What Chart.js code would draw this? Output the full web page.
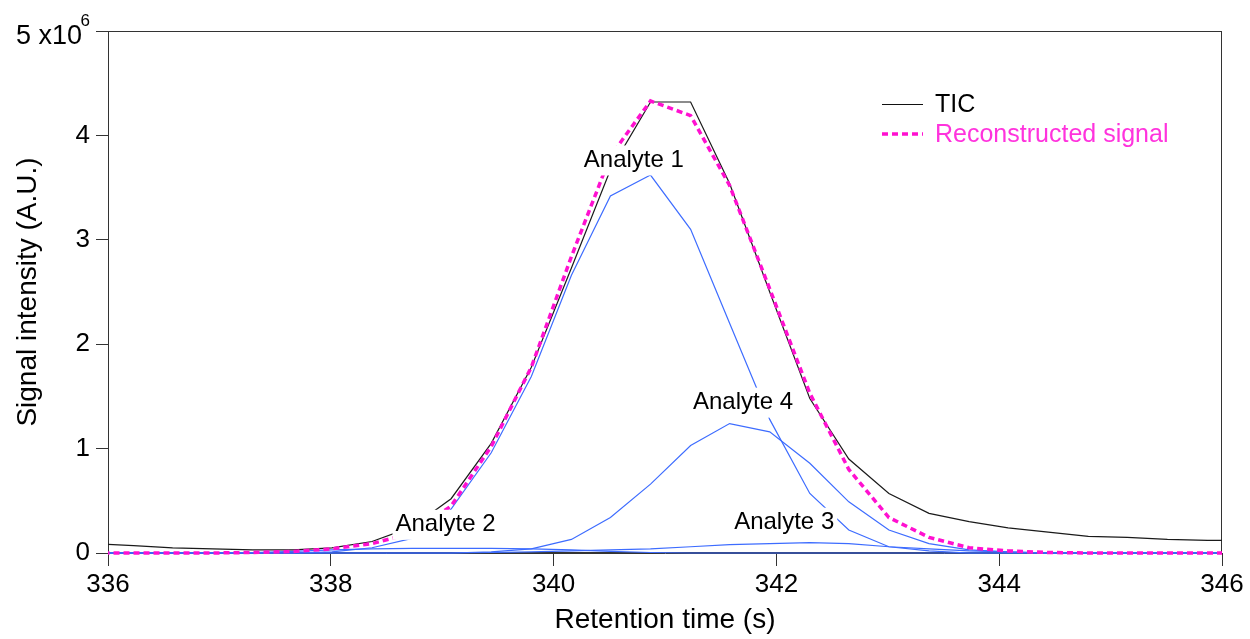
<!DOCTYPE html>
<html>
<head>
<meta charset="utf-8">
<script src="https://cdn.jsdelivr.net/npm/chart.js@4.4.1/dist/chart.umd.min.js"></script>
<style>
  html, body { margin: 0; padding: 0; background: #fff; }
</style>
</head>
<body>
<canvas id="chart" width="1250" height="639"></canvas>
<script>
// retention time (s)
const times = [335.87, 336.23, 336.58, 336.94, 337.30, 337.66, 338.01, 338.37, 338.73, 339.08,
  339.44, 339.80, 340.16, 340.51, 340.87, 341.23, 341.58, 341.94, 342.30, 342.65,
  343.01, 343.37, 343.73, 344.08, 344.44, 344.80, 345.15, 345.51, 345.87, 346.23];

// signal intensity, x10^6 A.U.
const ticSignal = [0.09, 0.07, 0.05, 0.04, 0.03, 0.03, 0.05, 0.11, 0.25, 0.52,
  1.05, 1.78, 2.73, 3.67, 4.32, 4.32, 3.54, 2.50, 1.48, 0.90,
  0.57, 0.38, 0.30, 0.24, 0.20, 0.16, 0.15, 0.13, 0.12, 0.12];
const reconstructed = [0, 0, 0, 0, 0.005, 0.015, 0.04, 0.09, 0.19, 0.45,
  1.02, 1.78, 2.84, 3.80, 4.33, 4.19, 3.52, 2.53, 1.53, 0.80,
  0.34, 0.15, 0.05, 0.02, 0.005, 0, 0, 0, 0, 0];
const analyte1 = [0, 0, 0, 0, 0, 0, 0.01, 0.05, 0.14, 0.42,
  0.96, 1.69, 2.66, 3.42, 3.62, 3.10, 2.20, 1.28, 0.57, 0.22,
  0.06, 0.02, 0, 0, 0, 0, 0, 0, 0, 0];
const analyte2 = [0, 0, 0, 0, 0.005, 0.015, 0.03, 0.04, 0.045, 0.045,
  0.045, 0.04, 0.03, 0.015, 0.005, 0, 0, 0, 0, 0,
  0, 0, 0, 0, 0, 0, 0, 0, 0, 0];
const analyte3 = [0, 0, 0, 0, 0, 0, 0, 0, 0, 0,
  0.005, 0.01, 0.02, 0.03, 0.04, 0.06, 0.08, 0.09, 0.10, 0.09,
  0.06, 0.04, 0.02, 0.01, 0, 0, 0, 0, 0, 0];
const analyte4 = [0, 0, 0, 0, 0, 0, 0, 0, 0, 0,
  0.01, 0.04, 0.13, 0.34, 0.66, 1.03, 1.24, 1.16, 0.86, 0.49,
  0.22, 0.09, 0.03, 0.01, 0, 0, 0, 0, 0, 0];

const yTicks = [0, 1, 2, 3, 4, 5];
const xTicks = [336, 338, 340, 342, 344, 346];

// peak labels (placed in data coordinates)
const labelText = ["Analyte 1", "Analyte 2", "Analyte 3", "Analyte 4"];
const labelX = [340.72, 339.03, 342.07, 341.70];
const labelY = [3.76, 0.27, 0.29, 1.44];

const legendText = ["TIC", "Reconstructed signal"];

const FONT = "Arial, 'Liberation Sans', sans-serif";
const axisColor = "#333333";
const blue = "#3d6cff";
const magenta = "#ff10d0";
const lineClip = { left: 0, right: 0, top: 4, bottom: 4 };

function toPoints(ys) {
  return times.map((t, i) => ({ x: t, y: ys[i] }));
}

const overlay = {
  id: "overlay",
  beforeDatasetsDraw(chart) {
    const ctx = chart.ctx;
    const area = chart.chartArea;
    ctx.save();
    ctx.strokeStyle = axisColor;
    ctx.lineWidth = 1;
    ctx.strokeRect(area.left + 0.5, area.top + 0.5, area.right - area.left - 1, area.bottom - area.top - 1);
    ctx.restore();
  },
  afterDatasetsDraw(chart) {
    const ctx = chart.ctx;
    const area = chart.chartArea;
    const xs = chart.scales.x;
    const ys = chart.scales.y;
    ctx.save();

    // peak labels with white boxes
    ctx.font = "24px " + FONT;
    ctx.textAlign = "center";
    ctx.textBaseline = "middle";
    labelText.forEach((txt, i) => {
      const px = xs.getPixelForValue(labelX[i]);
      const py = ys.getPixelForValue(labelY[i]);
      const w = ctx.measureText(txt).width;
      ctx.fillStyle = "#ffffff";
      ctx.fillRect(px - w / 2 - 3, py - 15, w + 6, 30);
      ctx.fillStyle = "#000000";
      ctx.fillText(txt, px, py);
    });

    // legend
    const lx = area.right - 340;
    ctx.lineWidth = 1.2;
    ctx.strokeStyle = "#111";
    ctx.beginPath();
    ctx.moveTo(lx, 104.5);
    ctx.lineTo(lx + 41, 104.5);
    ctx.stroke();
    ctx.lineWidth = 3.5;
    ctx.strokeStyle = magenta;
    ctx.setLineDash([6, 4]);
    ctx.beginPath();
    ctx.moveTo(lx, 134);
    ctx.lineTo(lx + 41, 134);
    ctx.stroke();
    ctx.setLineDash([]);
    ctx.textAlign = "left";
    ctx.font = "25px " + FONT;
    ctx.fillStyle = "#000";
    ctx.fillText(legendText[0], lx + 53, 105);
    ctx.fillStyle = "#ff33dd";
    ctx.fillText(legendText[1], lx + 53, 135);

    // top tick label with exponent
    const y5 = ys.getPixelForValue(5);
    ctx.fillStyle = "#000";
    ctx.textAlign = "right";
    ctx.font = "17px " + FONT;
    ctx.fillText("6", area.left - 18, y5 - 10);
    ctx.font = "27px " + FONT;
    ctx.fillText("5 x10", area.left - 26, y5 + 6);
    ctx.restore();
  }
};

const dataOpts = { borderWidth: 1.2, clip: lineClip };

new Chart(document.getElementById("chart"), {
  type: "line",
  data: {
    datasets: [
      { label: "Reconstructed signal", data: toPoints(reconstructed), borderColor: magenta, borderWidth: 3.5, borderDash: [6, 4], clip: lineClip, order: 0 },
      { label: "TIC", data: toPoints(ticSignal), borderColor: "#1a1a1a", ...dataOpts, order: 1 },
      { label: "Analyte 1", data: toPoints(analyte1), borderColor: blue, ...dataOpts, order: 2 },
      { label: "Analyte 2", data: toPoints(analyte2), borderColor: blue, ...dataOpts, order: 2 },
      { label: "Analyte 3", data: toPoints(analyte3), borderColor: blue, ...dataOpts, order: 2 },
      { label: "Analyte 4", data: toPoints(analyte4), borderColor: blue, ...dataOpts, order: 2 }
    ]
  },
  options: {
    responsive: false,
    animation: false,
    layout: { padding: { top: 31, right: 28, left: 0, bottom: 0 } },
    plugins: { legend: { display: false }, tooltip: { enabled: false } },
    elements: { point: { radius: 0 }, line: { tension: 0, fill: false } },
    scales: {
      x: {
        type: "linear",
        min: xTicks[0],
        max: xTicks[xTicks.length - 1],
        afterBuildTicks(scale) { scale.ticks = xTicks.map(v => ({ value: v })); },
        ticks: { color: "#000", font: { family: FONT, size: 26 }, padding: 3, maxRotation: 0, callback: v => String(v) },
        grid: { display: true, drawOnChartArea: false, drawTicks: true, tickLength: 13, color: axisColor },
        border: { display: true, color: axisColor },
        title: { display: true, text: "Retention time (s)", color: "#000", font: { family: FONT, size: 28 }, padding: { top: 0, bottom: 2 } },
        afterFit(scale) { scale.height = 86; }
      },
      y: {
        min: yTicks[0],
        max: yTicks[yTicks.length - 1],
        afterBuildTicks(scale) { scale.ticks = yTicks.map(v => ({ value: v })); },
        ticks: { color: "#000", font: { family: FONT, size: 26 }, padding: 6, callback: v => (v === 5 ? "" : String(v)) },
        grid: { display: true, drawOnChartArea: false, drawTicks: true, tickLength: 12, color: axisColor },
        border: { display: true, color: axisColor },
        title: { display: true, text: "Signal intensity (A.U.)", color: "#000", font: { family: FONT, size: 28 }, padding: { top: 11, bottom: 0 } },
        afterFit(scale) { scale.width = 108; }
      }
    }
  },
  plugins: [overlay]
});
</script>
</body>
</html>
